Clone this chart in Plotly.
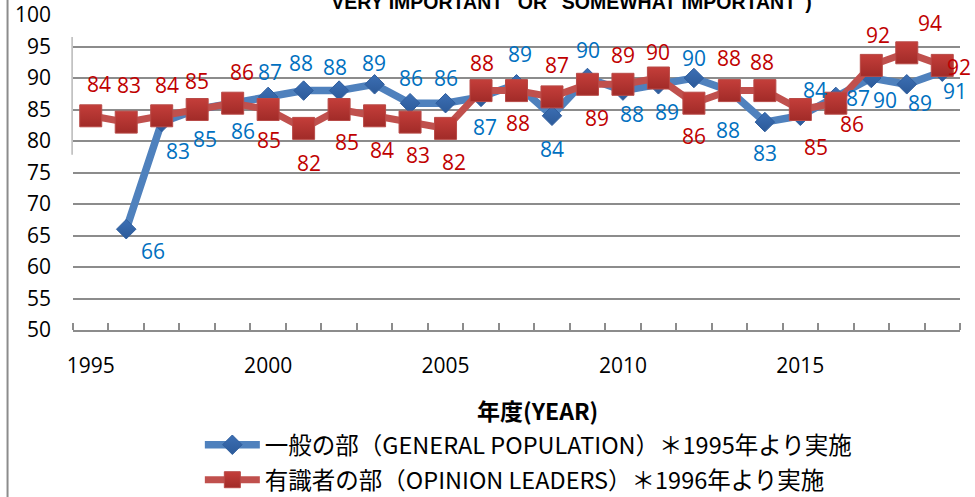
import plotly.graph_objects as go

# ---------------- data ----------------
years_red = list(range(1995, 2020))
red_values = [84, 83, 84, 85, 86, 85, 82, 85, 84, 83, 82, 88, 88, 87, 89, 89, 90, 86, 88, 88, 85, 86, 92, 94, 92]
years_blue = list(range(1996, 2020))
blue_values = [66, 83, 85, 86, 87, 88, 88, 89, 86, 86, 87, 89, 84, 90, 88, 89, 90, 88, 83, 84, 87, 90, 89, 91]
x_tick_labels = [1995, 2000, 2005, 2010, 2015]
y_ticks = list(range(50, 101, 5))

blue_name = "一般の部（GENERAL POPULATION）＊1995年より実施"
red_name = "有識者の部（OPINION LEADERS）＊1996年より実施"
axis_title = "<b>年度(YEAR)</b>"
chart_title = '<b>"VERY IMPORTANT" OR "SOMEWHAT IMPORTANT")</b>'

# ---------------- label placement (style: pixel offsets dx, dy) ----------------
red_label_shift = [(8, -32), (3, -37), (5, -31), (0, -29), (9, -31), (1, 30), (5, 35), (8, 32),
                   (7, 34), (8, 33), (8, 34), (1, -28), (1, 32), (5, -32), (10, 34), (0, -29),
                   (0, -26), (0, 33), (0, -33), (-3, -29), (16, 37), (16, 21), (7, -30), (23, -30), (17, 2)]
blue_label_shift = [(27, 22), (16, 29), (8, 29), (10, 28), (2, -25), (-3, -28), (-4, -24), (-1, -21),
                    (1, -25), (0, -25), (4, 30), (3, -30), (0, 33), (1, -28), (9, 23), (9, 28),
                    (0, -20), (-1, 39), (0, 31), (15, -26), (22, 1), (14, 22), (13, 19), (13, 19)]

BLUE_LINE = "#4F81BD"
BLUE_MARK = "#3C6FB4"
BLUE_TEXT = "#0070C0"
RED_LINE = "#C0504D"
RED_MARK = "#C43E3A"
RED_TEXT = "#C00000"
GRID = "#8C8C8C"
LABEL_FONT = "Open Sans, Noto Sans, sans-serif"
LEGEND_FONT = dict(family="Noto Sans CJK JP, sans-serif", size=23.5, color="#000000")

fig = go.Figure()

fig.add_trace(go.Scatter(
    x=years_blue, y=blue_values, name=blue_name, mode="lines+markers",
    line=dict(color=BLUE_LINE, width=7.5),
    marker=dict(symbol="diamond", size=15, color=BLUE_MARK,
                line=dict(color="#2F5E9E", width=1),
                gradient=dict(type="vertical", color="#2C5A99")),
    hoverinfo="skip", legend="legend",
))
fig.add_trace(go.Scatter(
    x=years_red, y=red_values, name=red_name, mode="lines+markers",
    line=dict(color=RED_LINE, width=7),
    marker=dict(symbol="square", size=22, color=RED_MARK,
                line=dict(color="#B84A47", width=1),
                gradient=dict(type="vertical", color="#A12B28")),
    hoverinfo="skip", legend="legend2",
))

annotations = []
for x, v, (dx, dy) in zip(years_blue, blue_values, blue_label_shift):
    annotations.append(dict(x=x, y=v, xref="x", yref="y", text=str(v), showarrow=False,
                            xshift=dx, yshift=-dy,
                            font=dict(family=LABEL_FONT, size=21, color=BLUE_TEXT)))
for x, v, (dx, dy) in zip(years_red, red_values, red_label_shift):
    annotations.append(dict(x=x, y=v, xref="x", yref="y", text=str(v), showarrow=False,
                            xshift=dx, yshift=-dy,
                            font=dict(family=LABEL_FONT, size=21, color=RED_TEXT)))

# axis title (centered left of plot centre, as in reference)
annotations.append(dict(x=0.524, y=-0.254, xref="paper", yref="paper", text=axis_title,
                        showarrow=False, xanchor="center", yanchor="middle",
                        font=dict(family="Noto Sans CJK JP, sans-serif", size=23, color="#000000")))
# chart title, cut off at the top edge
annotations.append(dict(x=0.557, y=1.0, xref="paper", yref="paper", text=chart_title,
                        showarrow=False, xanchor="center", yanchor="bottom", yshift=0,
                        font=dict(family="Liberation Sans, Arial, sans-serif", size=19.5, color="#000000")))

shapes = [
    # chart frame left edge
    dict(type="line", xref="paper", yref="paper", x0=-0.0738, x1=-0.0738, y0=-0.55, y1=1.06,
         line=dict(color="#8C8C8C", width=2), layer="above"),
    # faint vertical stub along plot left edge
    dict(type="line", xref="paper", yref="paper", x0=-0.001, x1=-0.001, y0=0.556, y1=0.930,
         line=dict(color="#B8B8B8", width=1.5), layer="below"),
]

legend_common = dict(xanchor="left", yanchor="middle", font=LEGEND_FONT,
                     itemwidth=55, bgcolor="rgba(0,0,0,0)")

fig.update_layout(
    width=975, height=497,
    margin=dict(l=73, r=15, t=15, b=167, autoexpand=False),
    paper_bgcolor="white", plot_bgcolor="white",
    annotations=annotations,
    shapes=shapes,
    showlegend=True,
    legend=dict(x=0.143, y=-0.365, **legend_common),
    legend2=dict(x=0.143, y=-0.476, **legend_common),
    xaxis=dict(
        range=[1994.5, 2019.5],
        tickmode="array", tickvals=x_tick_labels, ticktext=[str(t) for t in x_tick_labels],
        ticks="", showgrid=False, zeroline=False,
        showline=True, linecolor=GRID, linewidth=2,
        ticklabelstandoff=16,
        tickfont=dict(family=LABEL_FONT, size=21, color="#000000"),
        minor=dict(tickmode="linear", tick0=1994.5, dtick=1, ticks="inside",
                   ticklen=7, tickwidth=1.5, tickcolor=GRID, showgrid=False),
    ),
    yaxis=dict(
        range=[50, 100], tickmode="array", tickvals=y_ticks,
        ticks="", showgrid=True, gridcolor=GRID, gridwidth=1.5,
        zeroline=False, showline=False,
        ticklabelstandoff=21,
        tickfont=dict(family=LABEL_FONT, size=21, color="#000000"),
    ),
)

# the page's default 8px body margin would shift the figure; remove it so the
# 975x497 figure fills the window exactly
fig.write_html("out.html", config={"displayModeBar": False},
               post_script="document.body.style.margin='0';")
